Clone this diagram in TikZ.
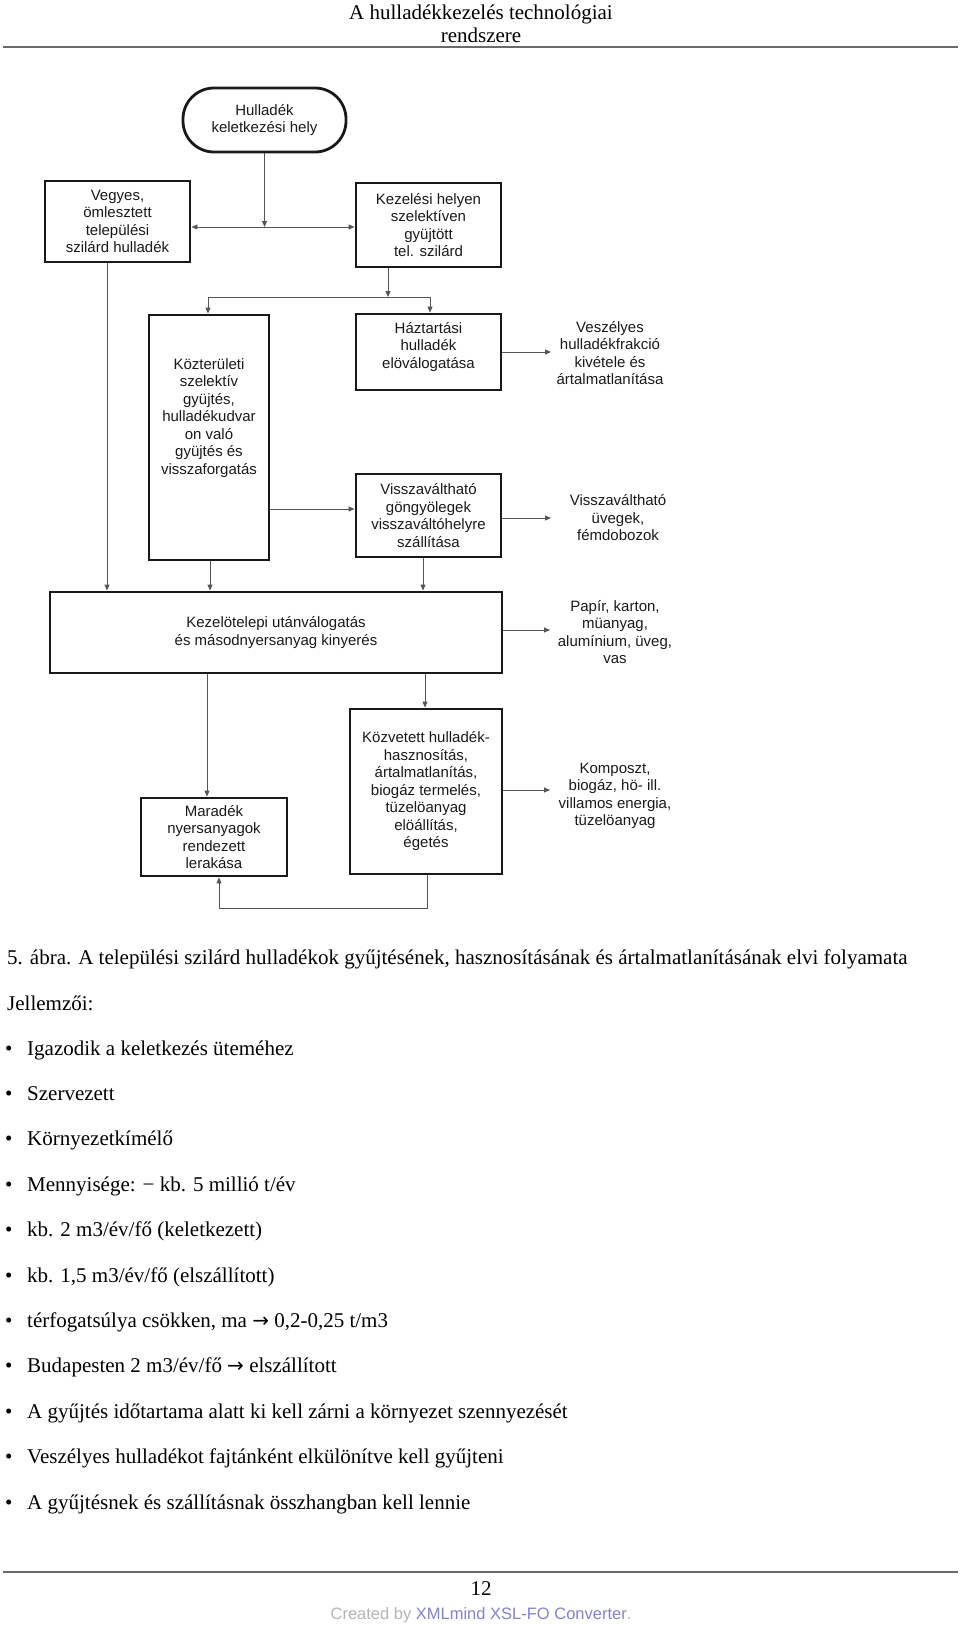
\documentclass[tikz,border=0pt]{standalone}
\usepackage{fontspec}
\setmainfont{Liberation Serif}
\newfontfamily\dsans{Liberation Sans}
\newfontfamily\arrowfont{DejaVu Sans}
\usetikzlibrary{arrows.meta}
\newcommand\dtext{\dsans\fontsize{15}{17.5}\selectfont}
\newcommand\ptext{\fontsize{21}{24}\selectfont}
\newcommand\rarr{{\arrowfont\fontsize{20}{24}\selectfont →}}
\definecolor{linegray}{HTML}{555555}
\definecolor{rulegray}{HTML}{6A6A6A}
\definecolor{credgray}{HTML}{B4B4B4}
\definecolor{credblue}{HTML}{8383C8}
\tikzset{
  box/.style={draw=black!90, line width=2.8pt, inner sep=0pt, font=\dtext, align=center, text=black!90},
  term/.style={box, rounded corners=31pt},
  btext/.style={font=\dtext, align=center, text=black!90, inner sep=0pt},
  conn/.style={draw=linegray, line width=1pt, -{Triangle[length=6pt,width=5pt]}},
  plain/.style={draw=linegray, line width=1pt},
  ptxt/.style={font=\ptext, anchor=base west, inner sep=0pt},
  pline/.style={draw=rulegray, line width=2pt},
}
\begin{document}
\begin{tikzpicture}[x=1pt,y=-1pt]
\useasboundingbox (0,0) rectangle (960,1625);
% header
\node[font=\ptext, anchor=base, inner sep=0pt] (h1) at (481,19) {A hulladékkezelés technológiai};
\node[font=\ptext, anchor=base, inner sep=0pt] (h2) at (481,42.5) {rendszere};
\coordinate (hl) at (3,47); \coordinate (hr) at (958,47);
\draw[pline] (hl) -- (hr);

% boxes
\node[term, minimum width=163pt, minimum height=64pt] (term) at (264.5,120) {Hulladék\\keletkezési hely};
\node[box, minimum width=145pt, minimum height=81pt] (vegyes) at (117.5,221.5) {Vegyes,\\ömlesztett\\települési\\szilárd hulladék};
\node[box, minimum width=145pt, minimum height=84pt] (kezelesi) at (428.5,225) {Kezelési helyen\\szelektíven\\gyüjtött\\tel. szilárd};
\node[box, minimum width=120pt, minimum height=245pt] (kozt) at (209,437.5) {};
\node[btext] (kozttext) at (209,418) {Közterületi\\szelektív\\gyüjtés,\\hulladékudvar\\on való\\gyüjtés és\\visszaforgatás};
\node[box, minimum width=145pt, minimum height=76pt] (haztart) at (428.5,352) {};
\node[btext] (haztarttext) at (428.5,347) {Háztartási\\hulladék\\elöválogatása};
\node[box, minimum width=145pt, minimum height=83pt] (visszav) at (428.5,515.5) {Visszaváltható\\göngyölegek\\visszaváltóhelyre\\szállítása};
\node[box, minimum width=452pt, minimum height=81pt] (kezelo) at (276,632.5) {Kezelötelepi utánválogatás\\és másodnyersanyag kinyerés};
\node[box, minimum width=152pt, minimum height=165pt] (kozv) at (426,791.5) {Közvetett hulladék-\\hasznosítás,\\ártalmatlanítás,\\biogáz termelés,\\tüzelöanyag\\elöállítás,\\égetés};
\node[box, minimum width=146pt, minimum height=78pt] (maradek) at (214,837) {Maradék\\nyersanyagok\\rendezett\\lerakása};

% output texts
\node[btext] (veszely) at (610,353) {Veszélyes\\hulladékfrakció\\kivétele és\\ártalmatlanítása};
\node[btext] (uveg) at (618,518) {Visszaváltható\\üvegek,\\fémdobozok};
\node[btext] (papir) at (615,632) {Papír, karton,\\müanyag,\\alumínium, üveg,\\vas};
\node[btext] (kompost) at (615,796) {Komposzt,\\biogáz, hö- ill.\\villamos energia,\\tüzelöanyag};

% connectors
\coordinate (j1) at (265,227);
\draw[conn] (term.south) -- (term.south |- j1);
\draw[conn] (j1) -- (vegyes.east |- j1);
\draw[conn] (j1) -- (kezelesi.west |- j1);

\coordinate (j2) at (388,297);
\coordinate (j2l) at (208,297);
\coordinate (j2r) at (430,297);
\draw[conn] (kezelesi.south -| j2) -- (j2);
\draw[plain] (j2l) -- (j2r);
\draw[conn] (j2l) -- (j2l |- kozt.north);
\draw[conn] (j2r) -- (j2r |- haztart.north);

\coordinate (v1) at ([xshift=-10.5pt]vegyes.south);
\coordinate (k0) at ([xshift=1pt]kozt.south);
\coordinate (k1) at ([yshift=-71.5pt]kozt.east);
\coordinate (v2) at ([xshift=-5.5pt]visszav.south);
\draw[conn] (v1) -- (v1 |- kezelo.north);
\draw[conn] (k0) -- (k0 |- kezelo.north);
\draw[conn] (k1) -- (visszav.west |- k1);
\draw[conn] (v2) -- (v2 |- kezelo.north);

\coordinate (e1) at (551,352);
\coordinate (e2) at (551,518);
\coordinate (e3) at (550,630);
\coordinate (e4) at (550,790);
\draw[conn] (haztart.east) -- (e1);
\draw[conn] (visszav.east |- e2) -- (e2);
\draw[conn] (kezelo.east |- e3) -- (e3);
\draw[conn] (kozv.east |- e4) -- (e4);

\coordinate (m1) at ([xshift=-69pt]kezelo.south);
\coordinate (m2) at ([xshift=149pt]kezelo.south);
\coordinate (m3) at ([xshift=1pt]kozv.south);
\coordinate (m4) at ([xshift=5pt]maradek.south);
\draw[conn] (m1) -- (m1 |- maradek.north);
\draw[conn] (m2) -- (m2 |- kozv.north);
\draw[conn] (m3) -- ++(0,33) -| (m4);

% caption and list
\node[ptxt] (cap) at (7,964) {5. ábra. A települési szilárd hulladékok gyűjtésének, hasznosításának és ártalmatlanításának elvi folyamata};
\node[ptxt] (jell) at (7,1010) {Jellemzői:};
\foreach \i/\t in {0/{Igazodik a keletkezés üteméhez},1/{Szervezett},2/{Környezetkímélő},3/{Mennyisége: − kb. 5 millió t/év},4/{kb. 2 m3/év/fő (keletkezett)},5/{kb. 1,5 m3/év/fő (elszállított)},6/{térfogatsúlya csökken, ma \rarr{} 0,2-0,25 t/m3},7/{Budapesten 2 m3/év/fő \rarr{} elszállított},8/{A gyűjtés időtartama alatt ki kell zárni a környezet szennyezését},9/{Veszélyes hulladékot fajtánként elkülönítve kell gyűjteni},10/{A gyűjtésnek és szállításnak összhangban kell lennie}}{
  \node[ptxt] (b\i) at (5,1055+45.4*\i) {•};
  \node[ptxt] (t\i) at (27,1055+45.4*\i) {\t};
}

% footer
\coordinate (fl) at (3,1572); \coordinate (fr) at (958,1572);
\draw[pline] (fl) -- (fr);
\node[font=\ptext, anchor=base, inner sep=0pt] (pg) at (481,1595) {12};
\node[font=\dsans\fontsize{16.5}{18}\selectfont, anchor=base, inner sep=0pt] (cred) at (481,1619.5) {\textcolor{credgray}{Created by }\textcolor{credblue}{XMLmind XSL-FO Converter}\textcolor{credgray}{.}};
\end{tikzpicture}
\end{document}
